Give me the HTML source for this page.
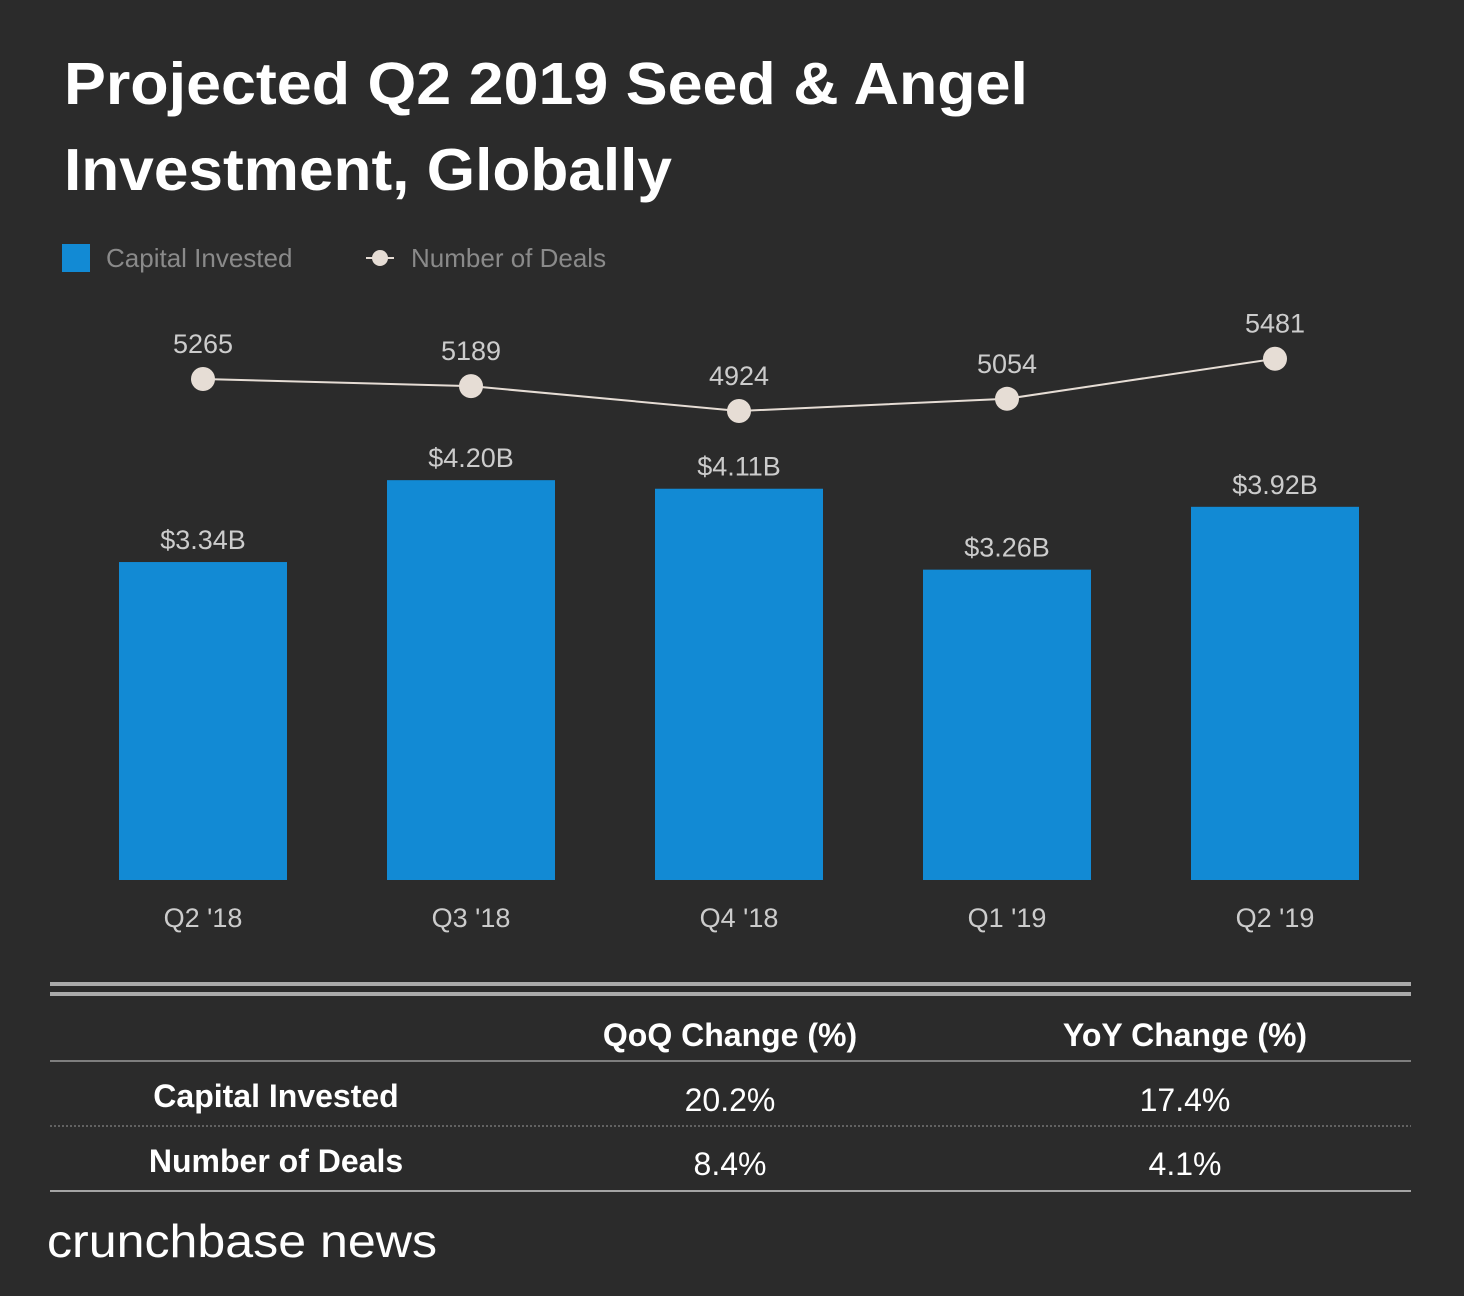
<!DOCTYPE html>
<html><head><meta charset="utf-8"><style>
body{margin:0;background:#2b2b2b;width:1464px;height:1296px;overflow:hidden;font-family:"Liberation Sans",sans-serif}
svg{display:block}
</style></head><body>
<svg width="1464" height="1296">
<rect width="1464" height="1296" fill="#2b2b2b"/>
<text x="64" y="104" fill="#fff" font-size="59" font-weight="bold" textLength="964" lengthAdjust="spacingAndGlyphs">Projected Q2 2019 Seed &amp; Angel</text>
<text x="64" y="190" fill="#fff" font-size="59" font-weight="bold" textLength="608" lengthAdjust="spacingAndGlyphs">Investment, Globally</text>
<g>
<rect x="62" y="244" width="28" height="28" fill="#128ad4"/>
<text x="106" y="267" fill="#8a8a8a" font-size="26">Capital Invested</text>
<line x1="366" y1="258" x2="394" y2="258" stroke="#e6ddd5" stroke-width="2"/>
<circle cx="380" cy="258" r="8" fill="#e6ddd5"/>
<text x="411" y="267" fill="#8a8a8a" font-size="26">Number of Deals</text>
</g>
<g id="plot"></g>
<g>
<rect x="50" y="982" width="1361" height="4" fill="#aaa"/>
<rect x="50" y="992" width="1361" height="4" fill="#aaa"/>
<text x="730" y="1046" fill="#fff" font-size="32" font-weight="bold" text-anchor="middle">QoQ Change (%)</text>
<text x="1185" y="1046" fill="#fff" font-size="32" font-weight="bold" text-anchor="middle">YoY Change (%)</text>
<line x1="50" y1="1061" x2="1411" y2="1061" stroke="#999" stroke-width="1.5"/>
<text x="276" y="1107" fill="#fff" font-size="32" font-weight="bold" text-anchor="middle">Capital Invested</text>
<text x="730" y="1111" fill="#fff" font-size="32" text-anchor="middle">20.2%</text>
<text x="1185" y="1111" fill="#fff" font-size="32" text-anchor="middle">17.4%</text>
<line x1="50" y1="1126" x2="1411" y2="1126" stroke="#999" stroke-width="1" stroke-dasharray="2,2"/>
<text x="276" y="1172" fill="#fff" font-size="32" font-weight="bold" text-anchor="middle">Number of Deals</text>
<text x="730" y="1175" fill="#fff" font-size="32" text-anchor="middle">8.4%</text>
<text x="1185" y="1175" fill="#fff" font-size="32" text-anchor="middle">4.1%</text>
<line x1="50" y1="1191" x2="1411" y2="1191" stroke="#ccc" stroke-width="1.5"/>
</g>
<text x="47" y="1257" fill="#fff" font-size="46" textLength="390" lengthAdjust="spacingAndGlyphs">crunchbase news</text>
</svg>
<script>
const categories=["Q2 '18","Q3 '18","Q4 '18","Q1 '19","Q2 '19"];
const capital=[3.34,4.20,4.11,3.26,3.92];
const capitalLabels=["$3.34B","$4.20B","$4.11B","$3.26B","$3.92B"];
const deals=[5265,5189,4924,5054,5481];
const NS="http://www.w3.org/2000/svg";
const g=document.getElementById('plot');
const xC=i=>203+i*268;
const yBar=v=>880-v*95.2;
const yDeal=v=>379-(v-5265)*0.0938;
function mk(t,a){const e=document.createElementNS(NS,t);for(const k in a)e.setAttribute(k,a[k]);g.appendChild(e);return e;}
categories.forEach((c,i)=>{
 const r=mk('rect',{x:xC(i)-84,y:yBar(capital[i]),width:168,height:880-yBar(capital[i]),fill:'#128ad4'});
 
 
 const t=mk('text',{x:xC(i),y:yBar(capital[i])-13,fill:'#ccc','font-size':27,'text-anchor':'middle'});t.textContent=capitalLabels[i];
 
 
 const x=mk('text',{x:xC(i),y:927,fill:'#ccc','font-size':27,'text-anchor':'middle'});x.textContent=c;
 
 
});
const line=mk('polyline',{points:deals.map((d,i)=>xC(i)+','+yDeal(d)).join(' '),fill:'none',stroke:'#e6ddd5','stroke-width':2});


deals.forEach((d,i)=>{
 const c=mk('circle',{cx:xC(i),cy:yDeal(d),r:12,fill:'#e6ddd5'});
 
 
 const t=mk('text',{x:xC(i),y:yDeal(d)-26,fill:'#ccc','font-size':27,'text-anchor':'middle'});t.textContent=d;
 
 
});
</script>
</body></html>
